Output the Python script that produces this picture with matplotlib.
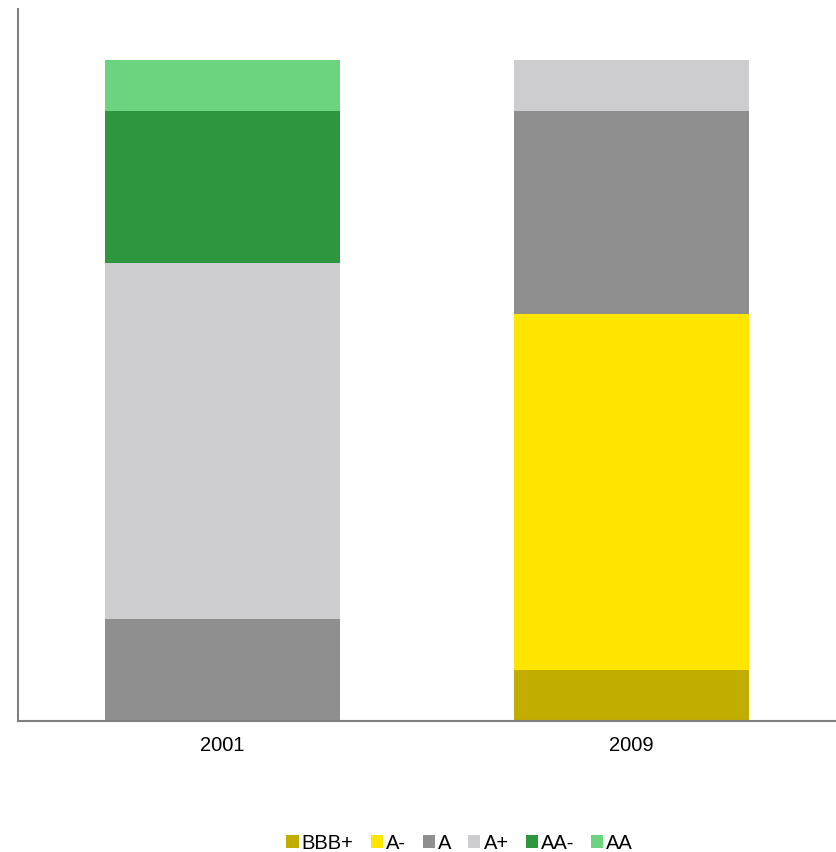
import matplotlib.pyplot as plt
import numpy as np

plt.rcParams['font.family'] = ['Liberation Sans', 'DejaVu Sans']

YEARS = ["2001", "2009"]
RATINGS = ["BBB+", "A-", "A", "A+", "AA-", "AA"]
COUNTS = {
    "BBB+": [0, 1],
    "A-":   [0, 7],
    "A":    [2, 4],
    "A+":   [7, 1],
    "AA-":  [3, 0],
    "AA":   [1, 0],
}
COLORS = {
    "BBB+": "#c0ad00",
    "A-":   "#ffe500",
    "A":    "#8f8f8f",
    "A+":   "#cdcdcf",
    "AA-":  "#2e963f",
    "AA":   "#6cd47e",
}


def main() -> None:
    fig = plt.figure(figsize=[8.36, 8.52], dpi=100)
    axes = fig.add_axes([0.0215, 0.1538, 0.9785, 0.8356])

    x = np.arange(len(YEARS))
    bottom = np.zeros(len(YEARS))
    for rating in RATINGS:
        vals = np.array(COUNTS[rating], dtype=float)
        axes.bar(x, vals, width=0.573, bottom=bottom, color=COLORS[rating],
                 label=rating, linewidth=0)
        bottom += vals

    axes.set_xlim(-0.5, 1.5)
    axes.set_ylim(0, 14)
    axes.set_xticks(x)
    axes.set_xticklabels(YEARS, fontsize=14.5)
    axes.tick_params(axis="x", length=0, pad=11)
    axes.set_yticks([])
    for side in ["top", "right"]:
        axes.spines[side].set_visible(False)
    for side in ["left", "bottom"]:
        axes.spines[side].set_color("#808080")
        axes.spines[side].set_linewidth(1.5)

    fig.legend(loc="center", bbox_to_anchor=(0.55, 0.0105), ncol=6,
               frameon=False, fontsize=14.5, handlelength=0.6,
               handleheight=0.6, handletextpad=0.15, columnspacing=0.85,
               borderaxespad=0)

    fig.savefig("out.png", dpi=100)


if __name__ == '__main__':
    main()
